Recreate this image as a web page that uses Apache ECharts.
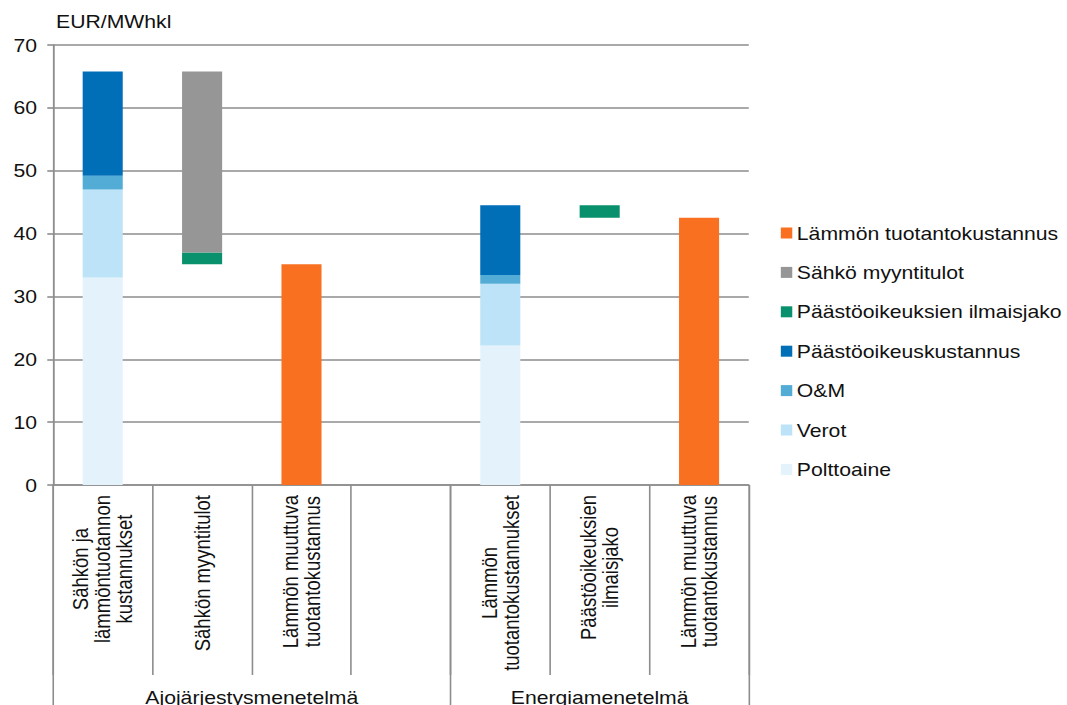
<!DOCTYPE html>
<html>
<head>
<meta charset="utf-8">
<title>Lämmön tuotantokustannus</title>
<script src="https://cdn.jsdelivr.net/npm/echarts@6/dist/echarts.min.js"></script>
<style>
  html, body { margin: 0; padding: 0; background: #fff; overflow: hidden; }
  /* the chart is laid out on a narrower canvas and widened to the full page width */
  #chart { width: 932px; height: 705px; transform: scaleX(1.1449); transform-origin: 0 0; }
</style>
</head>
<body>
<div id="chart"></div>
<script>
// Categories along the x axis (the empty slot separates the two methods)
const categories = [
  'Sähkön ja\nlämmöntuotannon\nkustannukset',
  'Sähkön myyntitulot',
  'Lämmön muuttuva\ntuotantokustannus',
  '',
  'Lämmön\ntuotantokustannukset',
  'Päästöoikeuksien\nilmaisjako',
  'Lämmön muuttuva\ntuotantokustannus'
];
// Method groups: name, first category index, number of categories
const groupNames = ['Ajojärjestysmenetelmä', 'Energiamenetelmä'];
const groupStart = [0, 4];
const groupSize = [4, 3];

const yTicks = { min: 0, max: 70, interval: 10 };
const unitLabel = 'EUR/MWhkl';

// Values in EUR/MWh (heat); offset is the floating start of waterfall bars
const offset               = [null, 35.1, null, null, null, 42.5, null];
const polttoaine           = [33.0, null, null, null, 22.2, null, null];
const verot                = [14.0, null, null, null,  9.8, null, null];
const oam                  = [ 2.2, null, null, null,  1.4, null, null];
const paastoKustannus      = [16.6, null, null, null, 11.1, null, null];
const paastoIlmaisjako     = [null,  1.9, null, null, null,  2.0, null];
const sahkoMyyntitulot     = [null, 28.8, null, null, null, null, null];
const lammonTuotantokust   = [null, null, 35.1, null, null, null, 42.5];

const FONT = '"Liberation Sans", Arial, sans-serif';
const GRID_COLOR = '#8d8d8d';

const stackSeries = [
  { name: 'Polttoaine', data: polttoaine, color: '#e4f3fb' },
  { name: 'Verot', data: verot, color: '#bce3f7' },
  { name: 'O&M', data: oam, color: '#52acd6' },
  { name: 'Päästöoikeuskustannus', data: paastoKustannus, color: '#006fb8' },
  { name: 'Päästöoikeuksien ilmaisjako', data: paastoIlmaisjako, color: '#08916c' },
  { name: 'Sähkö myyntitulot', data: sahkoMyyntitulot, color: '#969696' },
  { name: 'Lämmön tuotantokustannus', data: lammonTuotantokust, color: '#fa7021' }
];

const chart = echarts.init(document.getElementById('chart'), null, { renderer: 'svg' });

const series = [{
  name: 'offset',
  type: 'bar',
  stack: 'total',
  data: offset,
  barWidth: 35,
  silent: true,
  itemStyle: { color: 'transparent' },
  emphasis: { disabled: true }
}].concat(stackSeries.map(s => ({
  name: s.name,
  type: 'bar',
  stack: 'total',
  data: s.data,
  barWidth: 35,
  itemStyle: { color: s.color },
  emphasis: { disabled: true }
})));

chart.setOption({
  animation: false,
  backgroundColor: '#fff',
  title: {
    text: unitLabel,
    left: 44,
    top: 7,
    textStyle: { fontFamily: FONT, fontSize: 18.5, fontWeight: 'normal', color: '#111' }
  },
  legend: {
    orient: 'vertical',
    left: 682,
    top: 223,
    padding: 0,
    itemWidth: 10,
    itemHeight: 11,
    itemGap: 19.4,
    icon: 'rect',
    selectedMode: false,
    data: stackSeries.map(s => s.name).reverse(),
    textStyle: { fontFamily: FONT, fontSize: 18.5, color: '#111', lineHeight: 20, padding: [0, 0, 0, -1] }
  },
  grid: { left: 46.3, right: 278, top: 45, bottom: 220, containLabel: false },
  xAxis: [{
    type: 'category',
    data: categories,
    position: 'bottom',
    axisLine: { show: true, lineStyle: { color: GRID_COLOR, width: 1.6 } },
    axisTick: { show: true, interval: 0, length: 190, lineStyle: { color: GRID_COLOR, width: 1.4 } },
    axisLabel: {
      interval: 0,
      rotate: 90,
      margin: 10,
      fontFamily: FONT,
      fontSize: 18.5,
      color: '#111',
      formatter: v => v ? v.split('\n').map(s => '{c|' + s + '}').join('\n') : '',
      rich: { c: { align: 'center', fontFamily: FONT, fontSize: 18.5, lineHeight: 19, color: '#111' } }
    }
  }, {
    type: 'category',
    data: categories,
    position: 'bottom',
    axisLine: { show: false },
    axisLabel: { show: false },
    axisTick: {
      show: true,
      length: 225,
      interval: idx => groupStart.indexOf(idx) >= 0,
      lineStyle: { color: GRID_COLOR, width: 1.4 }
    }
  }],
  yAxis: {
    type: 'value',
    min: yTicks.min,
    max: yTicks.max,
    interval: yTicks.interval,
    axisLine: { show: true, lineStyle: { color: GRID_COLOR, width: 1.6 } },
    axisTick: { show: true, length: 5, lineStyle: { color: GRID_COLOR, width: 1.6 } },
    splitLine: { show: true, lineStyle: { color: GRID_COLOR, width: 1.6 } },
    axisLabel: { margin: 14, fontFamily: FONT, fontSize: 18.5, color: '#111' }
  },
  series: series
});

// Group captions centred under each method's categories
const groupGraphics = groupNames.map((name, i) => {
  const x0 = chart.convertToPixel({ xAxisIndex: 0 }, groupStart[i]);
  const x1 = chart.convertToPixel({ xAxisIndex: 0 }, groupStart[i] + groupSize[i] - 1);
  return {
    type: 'text',
    x: (x0 + x1) / 2,
    y: 688,
    style: {
      text: name,
      align: 'center',
      verticalAlign: 'top',
      font: '18.5px ' + FONT,
      fill: '#111'
    }
  };
});
chart.setOption({ graphic: groupGraphics });
</script>
</body>
</html>
